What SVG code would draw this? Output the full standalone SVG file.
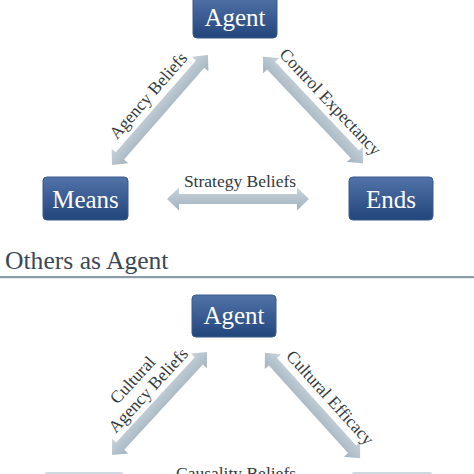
<svg xmlns="http://www.w3.org/2000/svg" width="474" height="474" viewBox="0 0 474 474">
<defs>
<linearGradient id="boxg" x1="0" y1="0" x2="0" y2="1">
<stop offset="0" stop-color="#5173a8"/>
<stop offset="1" stop-color="#22457c"/>
</linearGradient>
<linearGradient id="arrg" x1="0" y1="0" x2="0" y2="1">
<stop offset="0" stop-color="#c9d4dc"/>
<stop offset="1" stop-color="#a2b2be"/>
</linearGradient>
<style>
.box{fill:url(#boxg);stroke:#3a5a8c;stroke-width:1}
.bt{font-family:"Liberation Serif","Times New Roman",serif;font-size:25px;fill:#ffffff;text-anchor:middle}
.arr{fill:url(#arrg)}
.lab{font-family:"Liberation Serif","Times New Roman",serif;font-size:17.5px;fill:#333a40;text-anchor:middle}
.head{font-family:"Liberation Serif","Times New Roman",serif;font-size:25.6px;fill:#3b4856}
.light{fill:#cdd8e1}
</style>
</defs>
<rect width="474" height="474" fill="#ffffff"/>
<g id="connectors">
<g transform="translate(160,110) rotate(-48.9)">
<polygon class="arr" points="-73,0 -61,-11 -61,-5.5 61,-5.5 61,-11 73,0 61,11 61,5.5 -61,5.5 -61,11"/>
<text class="lab" x="3" y="-12.5">Agency Beliefs</text>
</g>
<g transform="translate(313,110) rotate(46.7)">
<polygon class="arr" points="-73,0 -61,-11 -61,-5.5 61,-5.5 61,-11 73,0 61,11 61,5.5 -61,5.5 -61,11"/>
<text class="lab" x="6" y="-12.5">Control Expectancy</text>
</g>
<g transform="translate(238,199)">
<polygon class="arr" points="-71,0 -59,-11.5 -59,-5 59,-5 59,-11.5 71,0 59,11.5 59,5 -59,5 -59,11.5"/>
<text class="lab" x="2" y="-12.5">Strategy Beliefs</text>
</g>
<g transform="translate(159.5,403.5) rotate(-47.3)">
<polygon class="arr" points="-70,0 -58,-11 -58,-5.5 58,-5.5 58,-11 70,0 58,11 58,5.5 -58,5.5 -58,11"/>
<text class="lab" x="2" y="-11.5">Agency Beliefs</text>
<text class="lab" x="-1" y="-30">Cultural</text>
</g>
<g transform="translate(312.5,405.5) rotate(47.9)">
<polygon class="arr" points="-71,0 -59,-11 -59,-5.5 59,-5.5 59,-11 71,0 59,11 59,5.5 -59,5.5 -59,11"/>
<text class="lab" x="6" y="-12.5">Cultural Efficacy</text>
</g>
<text class="lab" x="236" y="479">Causality Beliefs</text>
</g>
<g id="agent-top">
<rect class="box" x="193" y="-4" width="84" height="42" rx="4"/>
<text class="bt" x="235" y="26">Agent</text>
</g>
<g id="means-top">
<rect class="box" x="43" y="177" width="85" height="43" rx="4"/>
<text class="bt" x="85.5" y="207.5">Means</text>
</g>
<g id="ends-top">
<rect class="box" x="349" y="177" width="84" height="43" rx="4"/>
<text class="bt" x="391" y="207.5">Ends</text>
</g>
<g id="others-heading">
<text class="head" x="5" y="269">Others as Agent</text>
<rect x="0" y="276" width="474" height="2.2" fill="#8b9bac"/>
</g>
<g id="agent-bottom">
<rect class="box" x="192" y="295" width="84" height="42" rx="4"/>
<text class="bt" x="234" y="324">Agent</text>
</g>
<g id="means-bottom">
<rect class="light" x="45" y="472" width="78" height="6" rx="2"/>
</g>
<g id="ends-bottom">
<rect class="light" x="352" y="472" width="80" height="6" rx="2"/>
</g>
</svg>
